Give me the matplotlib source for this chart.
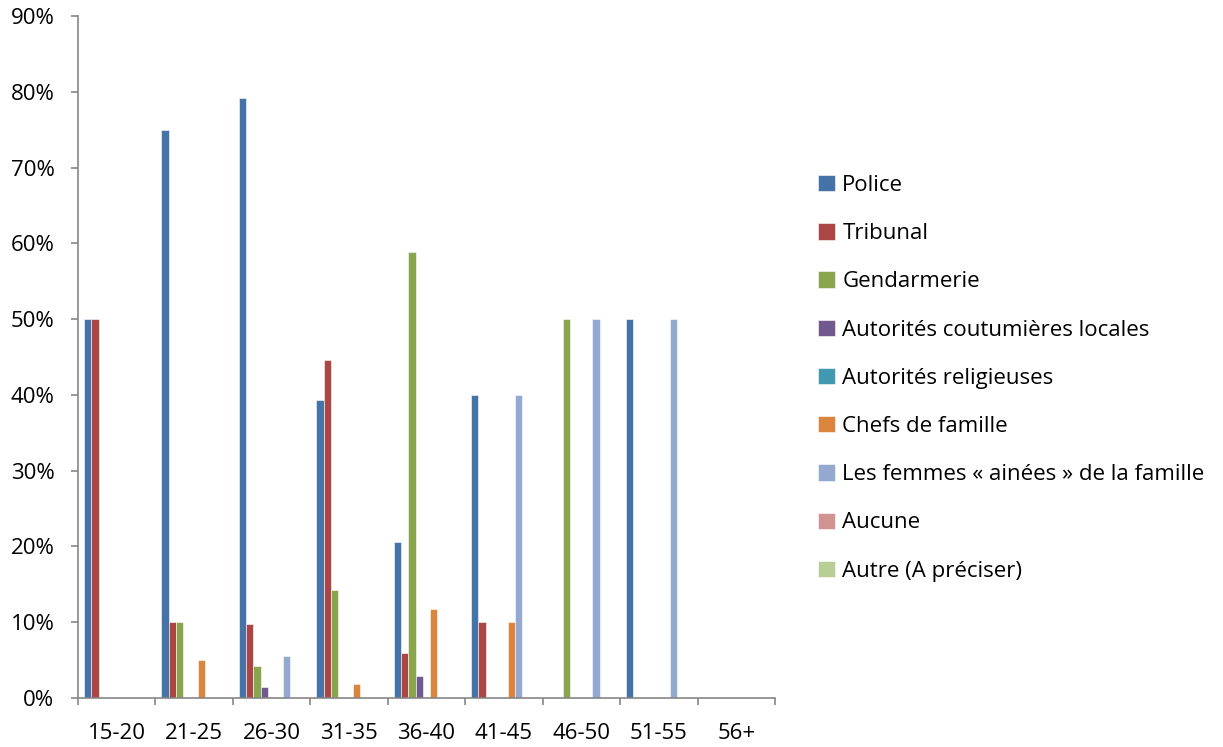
import matplotlib.pyplot as plt
import numpy as np

plt.rcParams['font.family'] = ['Open Sans', 'DejaVu Sans']

ages = ['15-20', '21-25', '26-30', '31-35', '36-40', '41-45', '46-50', '51-55', '56+']

police = [50, 75, 79.2, 39.3, 20.6, 40, 0, 50, 0]
tribunal = [50, 10, 9.7, 44.6, 5.9, 10, 0, 0, 0]
gendarmerie = [0, 10, 4.2, 14.3, 58.8, 0, 50, 0, 0]
coutumieres = [0, 0, 1.4, 0, 2.9, 0, 0, 0, 0]
religieuses = [0, 0, 0, 0, 0, 0, 0, 0, 0]
chefs = [0, 5, 0, 1.8, 11.8, 10, 0, 0, 0]
femmes = [0, 0, 5.6, 0, 0, 40, 50, 50, 0]
aucune = [0, 0, 0, 0, 0, 0, 0, 0, 0]
autre = [0, 0, 0, 0, 0, 0, 0, 0, 0]

series = [police, tribunal, gendarmerie, coutumieres, religieuses,
          chefs, femmes, aucune, autre]
labels = ['Police', 'Tribunal', 'Gendarmerie', 'Autorités coutumières locales',
          'Autorités religieuses', 'Chefs de famille',
          'Les femmes « ainées » de la famille', 'Aucune', 'Autre (A préciser)']
colors = ['#4572A7', '#AA4643', '#89A54E', '#71588F', '#4198AF',
          '#DB843D', '#93A9CF', '#D19392', '#B9CD96']

fig = plt.figure(figsize=(12.23, 7.47), dpi=100)
ax = fig.add_axes([78 / 1223, 1 - 698 / 747, (775 - 78) / 1223, (698 - 16) / 747])

x = np.arange(len(ages))
w = 0.094
for i, (vals, lab, c) in enumerate(zip(series, labels, colors)):
    ax.bar(x - 4 * w + i * w, np.array(vals) / 100, w, color=c, label=lab,
           edgecolor='white', linewidth=0.4)

ax.set_xlim(-0.5, len(ages) - 0.5)
ax.set_ylim(0, 0.9)
ax.set_yticks(np.arange(0, 0.91, 0.1))
ax.set_yticklabels(['%d%%' % v for v in range(0, 91, 10)], fontsize=16)
ax.set_xticks(x)
ax.set_xticklabels(ages, fontsize=16)
ax.set_xticks(np.arange(-0.5, len(ages), 1), minor=True)
ax.tick_params(axis='x', which='major', length=0, pad=18)
ax.tick_params(axis='x', which='minor', length=5, color='#868686', width=1.2)
ax.tick_params(axis='y', length=5, color='#868686', width=1.2, pad=12)

for s in ['top', 'right']:
    ax.spines[s].set_visible(False)
for s in ['left', 'bottom']:
    ax.spines[s].set_color('#868686')
    ax.spines[s].set_linewidth(1.2)

ax.legend(loc='upper left', bbox_to_anchor=(809 / 1223, 1 - 166 / 747),
          bbox_transform=fig.transFigure, frameon=False, fontsize=16,
          handlelength=0.75, handleheight=0.75, handletextpad=0.35,
          labelspacing=1.225, borderaxespad=0)

fig.savefig('out.png', dpi=100)
